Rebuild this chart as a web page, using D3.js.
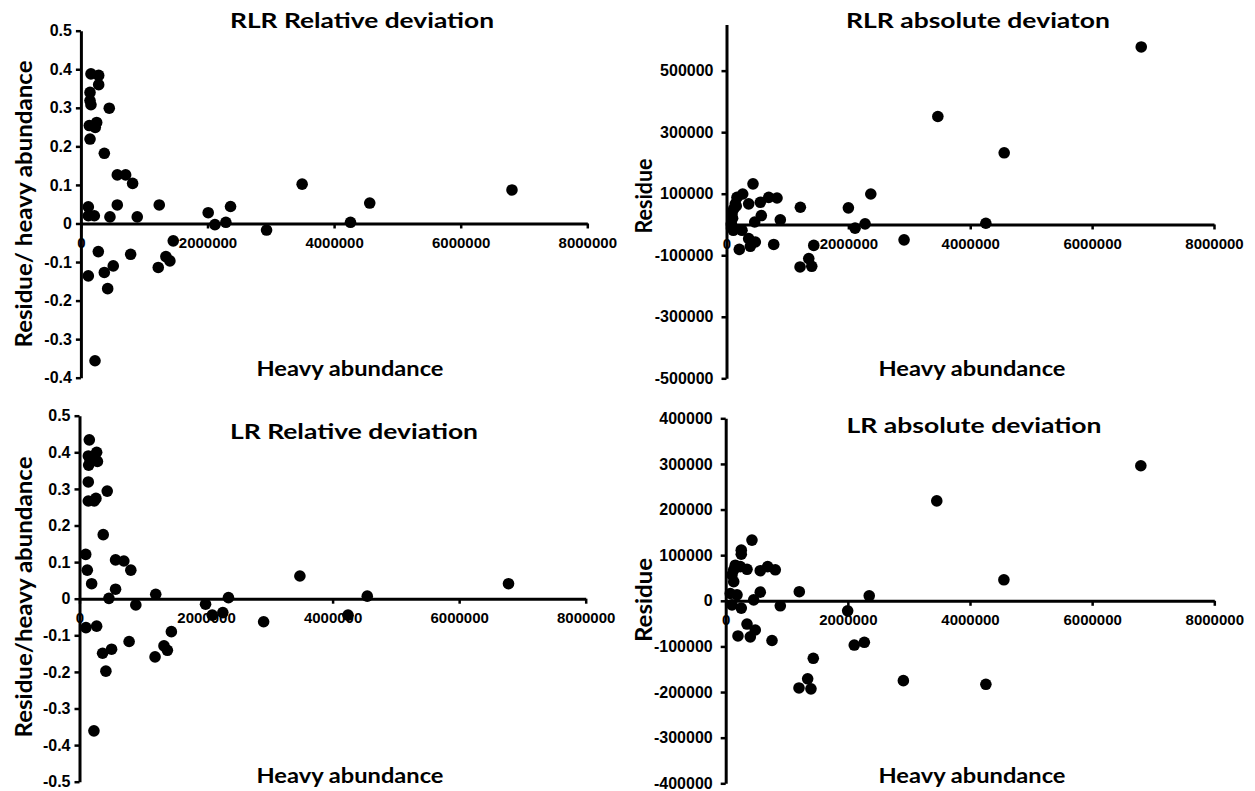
<!DOCTYPE html>
<html>
<head>
<meta charset="utf-8">
<script src="https://cdn.jsdelivr.net/npm/d3@7"></script>
<style>
	body { margin: 0; background: #fff; }
	svg { display: block; }
	.tick text { font-family: "Liberation Sans", Arial, sans-serif; font-weight: bold; fill: #000; }
</style>
</head>
<body>
<svg id="chart" width="1255" height="791"></svg>
<script>
// tick values
var xTicks = [0, 2000000, 4000000, 6000000, 8000000];
var rlrRelTicks = [-0.4, -0.3, -0.2, -0.1, 0, 0.1, 0.2, 0.3, 0.4, 0.5];
var lrRelTicks = [-0.5, -0.4, -0.3, -0.2, -0.1, 0, 0.1, 0.2, 0.3, 0.4, 0.5];
var rlrAbsTicks = [-500000, -300000, -100000, 100000, 300000, 500000];
var lrAbsTicks = [-400000, -300000, -200000, -100000, 0, 100000, 200000, 300000, 400000];

// RLR relative deviation
var rlrRelX = [159000, 281000, 281000, 144000, 144000, 159000, 448000, 133000, 249000, 227000, 144000, 370000,
	575000, 707000, 817000, 117000, 575000, 1238000, 117000, 212000, 459000, 890000, 2011000, 2117000, 2290000,
	2364000, 2933000, 3495000, 4563000, 4259000, 6810000, 275000, 1459000, 786000, 511000, 370000, 117000,
	423000, 1222000, 1343000, 1406000, 223000];
var rlrRelY = [0.388, 0.384, 0.360, 0.340, 0.319, 0.308, 0.299, 0.254, 0.262, 0.249, 0.219, 0.182,
	0.126, 0.126, 0.104, 0.043, 0.048, 0.048, 0.020, 0.020, 0.017, 0.017, 0.028, -0.003, 0.003,
	0.044, -0.017, 0.102, 0.053, 0.003, 0.087, -0.073, -0.045, -0.080, -0.110, -0.127, -0.136,
	-0.169, -0.114, -0.086, -0.097, -0.356];

// RLR absolute deviation
var rlrAbsX = [435000, 266000, 172000, 364000, 145000, 118000, 90000, 555000, 693000, 829000, 571000, 463000,
	883000, 1212000, 79000, 118000, 255000, 364000, 473000, 391000, 210000, 775000, 1432000, 1350000,
	1207000, 1399000, 2000000, 2110000, 2274000, 2368000, 2914000, 3468000, 4557000, 4256000, 6806000,
	100000, 160000, 112000];
var rlrAbsY = [132000, 99000, 88000, 67000, 67000, 51000, 35000, 72000, 88000, 86000, 29000, 8000,
	15000, 56000, 2000, -14000, -19000, -46000, -57000, -71000, -81000, -65000, -68000, -111000,
	-138000, -136000, 54000, -12000, 2000, 99000, -50000, 351000, 233000, 4000, 577000,
	20000, 60000, -19000];

// LR relative deviation
var lrRelX = [155000, 271000, 140000, 165000, 283000, 145000, 139000, 139000, 260000, 233000, 438000, 375000,
	98000, 123000, 192000, 570000, 701000, 811000, 570000, 465000, 890000, 1205000, 1992000, 2098000,
	2265000, 2354000, 2910000, 3483000, 4548000, 4244000, 6780000, 102000, 271000, 365000, 507000,
	417000, 784000, 1194000, 1335000, 1389000, 1452000, 228000];
var lrRelY = [0.434, 0.400, 0.390, 0.380, 0.375, 0.365, 0.319, 0.267, 0.274, 0.267, 0.294, 0.175,
	0.121, 0.078, 0.041, 0.106, 0.103, 0.078, 0.026, 0.001, -0.017, 0.012, -0.015, -0.045,
	-0.038, 0.003, -0.063, 0.062, 0.007, -0.045, 0.041, -0.079, -0.075, -0.149, -0.138,
	-0.198, -0.117, -0.159, -0.129, -0.141, -0.090, -0.361];

// LR absolute deviation
var lrAbsX = [430000, 255000, 255000, 157000, 239000, 349000, 131000, 103000, 131000, 566000, 687000, 812000,
	566000, 1205000, 75000, 185000, 458000, 103000, 255000, 894000, 349000, 484000, 403000, 201000,
	758000, 1997000, 2105000, 2270000, 2350000, 1434000, 1200000, 1342000, 1396000, 2909000, 3456000,
	4555000, 4260000, 6797000];
var lrAbsY = [133000, 111000, 102000, 78000, 75000, 69000, 68000, 57000, 42000, 66000, 75000, 68000,
	19000, 20000, 16000, 13000, 2000, -9000, -16000, -11000, -51000, -64000, -79000, -77000,
	-87000, -22000, -97000, -91000, 11000, -126000, -191000, -171000, -193000, -175000, 219000,
	46000, -183000, 296000];

var svg = d3.select("#chart");

function relFormat(d) {
	return d == 0 ? "0" : d.toFixed(1);
}

function absFormat(d) {
	return String(d);
}

function drawPanel(p) {
	var g = svg.append("g");

	var x = d3.scaleLinear().domain([0, 8000000]).range(p.xr);
	var y = d3.scaleLinear().domain(p.yd).range(p.yr);

	var xAxis = g.append("g")
		.attr("transform", "translate(0," + y(0) + ")")
		.call(d3.axisBottom(x).tickValues(xTicks).tickSize(5).tickSizeOuter(0).tickPadding(9)
			.tickFormat(function (d) { return String(d); }));

	var yAxis = g.append("g")
		.attr("transform", "translate(" + x(0) + ",0)")
		.call(d3.axisLeft(y).tickValues(p.ticks).tickSize(5).tickSizeOuter(0).tickPadding(p.pad)
			.tickFormat(p.fmt));

	g.selectAll(".domain").attr("stroke", "#000").attr("stroke-width", 3);
	g.selectAll(".tick line").attr("stroke", "#000").attr("stroke-width", 2.5);
	xAxis.selectAll(".tick text").attr("font-size", 15);
	yAxis.selectAll(".tick text").attr("font-size", 16);

	g.selectAll("circle.pt")
		.data(p.xs)
		.enter()
		.append("circle")
		.attr("class", "pt")
		.attr("cx", function (d) { return x(d); })
		.attr("cy", function (d, i) { return y(p.ys[i]); })
		.attr("r", 5.8)
		.attr("fill", "#000");

	g.append("text")
		.attr("x", p.title[1]).attr("y", p.title[2])
		.attr("text-anchor", "middle")
		.attr("font-family", "Lato, 'Open Sans', sans-serif")
		.attr("font-weight", "bold")
		.attr("font-size", 21)
		.attr("textLength", p.title[3])
		.attr("lengthAdjust", "spacingAndGlyphs")
		.text(p.title[0]);

	g.append("text")
		.attr("x", p.xlab[0]).attr("y", p.xlab[1])
		.attr("text-anchor", "middle")
		.attr("font-family", "Lato, 'Open Sans', sans-serif")
		.attr("font-weight", "bold")
		.attr("font-size", 20)
		.attr("textLength", 187)
		.attr("lengthAdjust", "spacingAndGlyphs")
		.text("Heavy abundance");

	g.append("text")
		.attr("transform", "translate(" + p.ylab[1] + "," + p.ylab[2] + ") rotate(-90)")
		.attr("text-anchor", "middle")
		.attr("dominant-baseline", "central")
		.attr("font-family", "Lato, 'Open Sans', sans-serif")
		.attr("font-weight", "bold")
		.attr("font-size", 22)
		.attr("textLength", p.ylab[3])
		.attr("lengthAdjust", "spacingAndGlyphs")
		.text(p.ylab[0]);
}

drawPanel({
	xr: [80.9, 587.3], yd: [-0.4, 0.5], yr: [377.7, 30.7],
	ticks: rlrRelTicks, fmt: relFormat, pad: 4,
	xs: rlrRelX, ys: rlrRelY,
	title: ["RLR Relative deviation", 362, 28, 264],
	xlab: [350, 376],
	ylab: ["Residue/ heavy abundance", 23, 204, 287]
});

drawPanel({
	xr: [726.5, 1214], yd: [-500000, 650000], yr: [378.3, 24.5],
	ticks: rlrAbsTicks, fmt: absFormat, pad: 8,
	xs: rlrAbsX, ys: rlrAbsY,
	title: ["RLR absolute deviaton", 978, 28, 264],
	xlab: [972, 376],
	ylab: ["Residue", 643, 196, 75]
});

drawPanel({
	xr: [79.5, 585.7], yd: [-0.5, 0.5], yr: [781.7, 415.7],
	ticks: lrRelTicks, fmt: relFormat, pad: 4,
	xs: lrRelX, ys: lrRelY,
	title: ["LR Relative deviation", 354, 439, 248],
	xlab: [350, 783],
	ylab: ["Residue/heavy abundance", 23, 597, 281]
});

drawPanel({
	xr: [725.7, 1214.3], yd: [-400000, 400000], yr: [783.3, 418.3],
	ticks: lrAbsTicks, fmt: absFormat, pad: 8,
	xs: lrAbsX, ys: lrAbsY,
	title: ["LR absolute deviation", 974, 433, 255],
	xlab: [972, 783],
	ylab: ["Residue", 643, 600, 84]
});
</script>
</body>
</html>
